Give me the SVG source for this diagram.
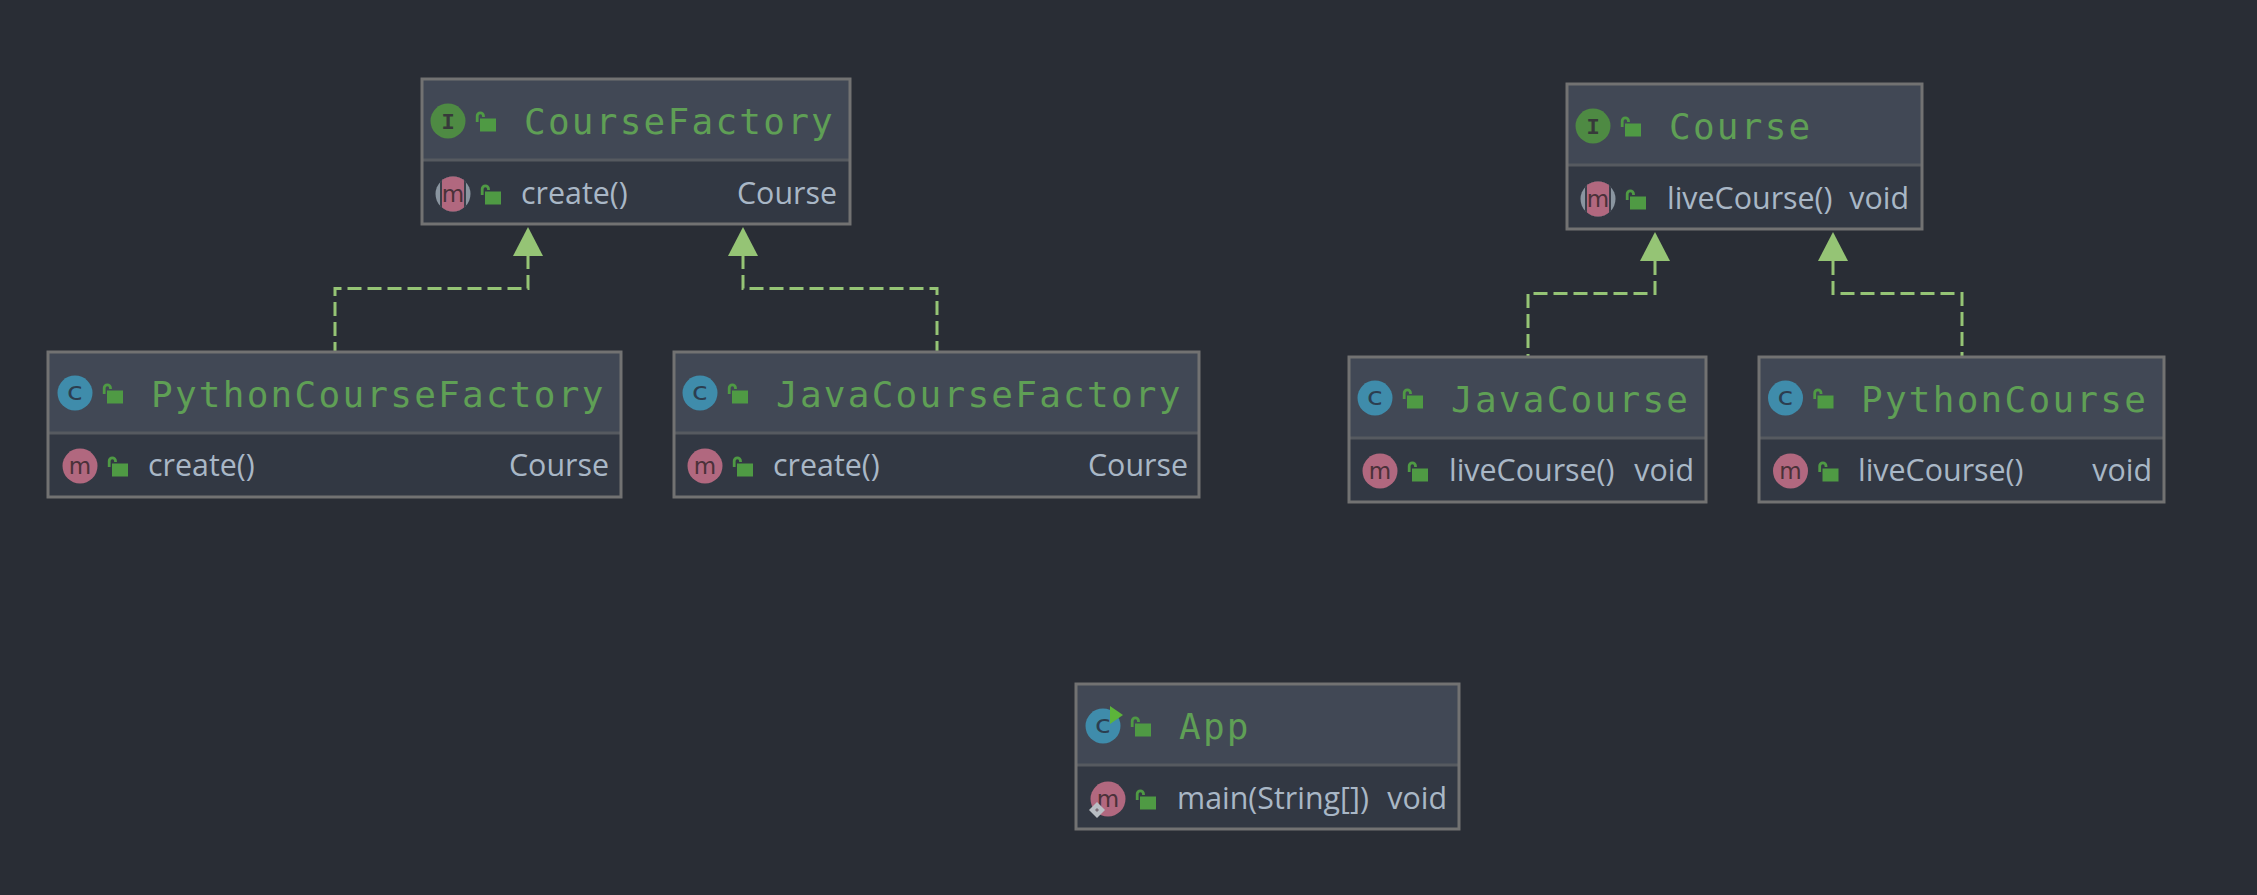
<svg xmlns="http://www.w3.org/2000/svg" xmlns:xlink="http://www.w3.org/1999/xlink" width="2257" height="895" viewBox="0 0 2257 895">
<style>
.head{fill:#414855}
.body{fill:#323843}
.frame{fill:none;stroke:#727272;stroke-width:3}
.div{stroke:#565a60;stroke-width:3}
.t{font-family:"DejaVu Sans Mono",monospace;font-size:36px;letter-spacing:2.25px;fill:#5f9f55}
.m{font-family:"Open Sans","Noto Sans",sans-serif;font-size:30.400px;fill:#a9b7c6}
.e{text-anchor:end}
.ic{font-family:"Liberation Mono",monospace;text-anchor:middle}
.is{font-family:"DejaVu Sans",sans-serif;text-anchor:middle}
.conn{fill:none;stroke:#95c475;stroke-width:3;stroke-dasharray:14 6}
</style>
<defs>
<clipPath id="disc"><circle r="17.500"/></clipPath>
<g id="lock"><path d="M-10.800 4V-2a3.150 3.150 0 0 1 6.300 0v1" fill="none" stroke="#4f9a44" stroke-width="2.800"/><rect x="-8" y="0.500" width="16" height="13" fill="#4f9a44"/></g>
<g id="icI"><circle r="17.500" fill="#4e8a43"/><text class="ic" y="7.500" font-size="22" font-weight="bold" fill="#37393a">I</text></g>
<g id="icC"><circle r="17.500" fill="#3f8cab"/><text class="is" transform="scale(1.150 1)" y="7.300" font-size="25" fill="#2c3e50">c</text></g>
<g id="icM"><circle r="17.500" fill="#b1687f"/><text class="is" y="7.500" font-size="23" fill="#4a3139">m</text></g>
<g id="icMA"><circle r="17.500" fill="#8a95a0"/><rect x="-13" y="-18" width="26" height="36" fill="#3a3f4a" clip-path="url(#disc)"/><rect x="-11" y="-18" width="22" height="36" fill="#b1687f" clip-path="url(#disc)"/><text class="is" y="7.500" font-size="23" fill="#4a3139">m</text></g>
<polygon id="tri" points="0,0 15,29 -15,29" fill="#95c475"/>
</defs>
<rect width="2257" height="895" fill="#292d35"/>
<g id="connectors">
<path class="conn" d="M528 255V288.500H335V351"/>
<path class="conn" d="M743 255V288.500H937V351"/>
<path class="conn" d="M1655 261V293.500H1528V356"/>
<path class="conn" d="M1833 261V293.500H1962V356"/>
<use xlink:href="#tri" href="#tri" x="528" y="227"/>
<use xlink:href="#tri" href="#tri" x="743" y="227"/>
<use xlink:href="#tri" href="#tri" x="1655" y="232"/>
<use xlink:href="#tri" href="#tri" x="1833" y="232"/>
</g>
<g id="CourseFactory">
<rect class="head" x="422" y="79" width="428" height="81"/><rect class="body" x="422" y="160" width="428" height="64"/>
<line class="div" x1="422" x2="850" y1="160" y2="160"/><rect class="frame" x="422" y="79" width="428" height="145"/>
<use xlink:href="#icI" href="#icI" x="448" y="121"/><use xlink:href="#lock" href="#lock" x="488" y="118"/>
<text class="t" x="524" y="134">CourseFactory</text>
<use xlink:href="#icMA" href="#icMA" x="453" y="194"/><use xlink:href="#lock" href="#lock" x="493" y="191"/>
<text class="m" x="521" y="204">create()</text><text class="m e" x="837" y="204">Course</text>
</g>
<g id="PythonCourseFactory">
<rect class="head" x="48" y="352" width="573" height="81"/><rect class="body" x="48" y="433" width="573" height="64"/>
<line class="div" x1="48" x2="621" y1="433" y2="433"/><rect class="frame" x="48" y="352" width="573" height="145"/>
<use xlink:href="#icC" href="#icC" x="75" y="393"/><use xlink:href="#lock" href="#lock" x="115" y="390"/>
<text class="t" x="151" y="407">PythonCourseFactory</text>
<use xlink:href="#icM" href="#icM" x="80" y="466"/><use xlink:href="#lock" href="#lock" x="120" y="463"/>
<text class="m" x="148" y="476">create()</text><text class="m e" x="609" y="476">Course</text>
</g>
<g id="JavaCourseFactory">
<rect class="head" x="674" y="352" width="525" height="81"/><rect class="body" x="674" y="433" width="525" height="64"/>
<line class="div" x1="674" x2="1199" y1="433" y2="433"/><rect class="frame" x="674" y="352" width="525" height="145"/>
<use xlink:href="#icC" href="#icC" x="700" y="393"/><use xlink:href="#lock" href="#lock" x="740" y="390"/>
<text class="t" x="776" y="407">JavaCourseFactory</text>
<use xlink:href="#icM" href="#icM" x="705" y="466"/><use xlink:href="#lock" href="#lock" x="745" y="463"/>
<text class="m" x="773" y="476">create()</text><text class="m e" x="1188" y="476">Course</text>
</g>
<g id="Course">
<rect class="head" x="1567" y="84" width="355" height="81"/><rect class="body" x="1567" y="165" width="355" height="64"/>
<line class="div" x1="1567" x2="1922" y1="165" y2="165"/><rect class="frame" x="1567" y="84" width="355" height="145"/>
<use xlink:href="#icI" href="#icI" x="1593" y="126"/><use xlink:href="#lock" href="#lock" x="1633" y="123"/>
<text class="t" x="1669" y="139">Course</text>
<use xlink:href="#icMA" href="#icMA" x="1598" y="199"/><use xlink:href="#lock" href="#lock" x="1638" y="196"/>
<text class="m" x="1667" y="209">liveCourse()</text><text class="m e" x="1909" y="209">void</text>
</g>
<g id="JavaCourse">
<rect class="head" x="1349" y="357" width="357" height="81"/><rect class="body" x="1349" y="438" width="357" height="64"/>
<line class="div" x1="1349" x2="1706" y1="438" y2="438"/><rect class="frame" x="1349" y="357" width="357" height="145"/>
<use xlink:href="#icC" href="#icC" x="1375" y="398"/><use xlink:href="#lock" href="#lock" x="1415" y="395"/>
<text class="t" x="1451" y="412">JavaCourse</text>
<use xlink:href="#icM" href="#icM" x="1380" y="471"/><use xlink:href="#lock" href="#lock" x="1420" y="468"/>
<text class="m" x="1449" y="481">liveCourse()</text><text class="m e" x="1694" y="481">void</text>
</g>
<g id="PythonCourse">
<rect class="head" x="1759" y="357" width="405" height="81"/><rect class="body" x="1759" y="438" width="405" height="64"/>
<line class="div" x1="1759" x2="2164" y1="438" y2="438"/><rect class="frame" x="1759" y="357" width="405" height="145"/>
<use xlink:href="#icC" href="#icC" x="1785.500" y="398"/><use xlink:href="#lock" href="#lock" x="1825.500" y="395"/>
<text class="t" x="1861" y="412">PythonCourse</text>
<use xlink:href="#icM" href="#icM" x="1790.500" y="471"/><use xlink:href="#lock" href="#lock" x="1830.500" y="468"/>
<text class="m" x="1858" y="481">liveCourse()</text><text class="m e" x="2152" y="481">void</text>
</g>
<g id="App">
<rect class="head" x="1076" y="684" width="383" height="81"/><rect class="body" x="1076" y="765" width="383" height="64"/>
<line class="div" x1="1076" x2="1459" y1="765" y2="765"/><rect class="frame" x="1076" y="684" width="383" height="145"/>
<use xlink:href="#icC" href="#icC" x="1103" y="726"/><polygon points="1110,706 1123,715 1110,724" fill="#5cb43a"/><use xlink:href="#lock" href="#lock" x="1143" y="723"/>
<text class="t" x="1179" y="739">App</text>
<use xlink:href="#icM" href="#icM" x="1108" y="799"/><path d="M1089 810l8-8 8 8-8 8z" fill="#b9bec4"/><path d="M1095 810l2-2 2 2-2 2z" fill="#7a6f78"/><use xlink:href="#lock" href="#lock" x="1148" y="796"/>
<text class="m" x="1177" y="809">main(String[])</text><text class="m e" x="1447" y="809">void</text>
</g>
</svg>
